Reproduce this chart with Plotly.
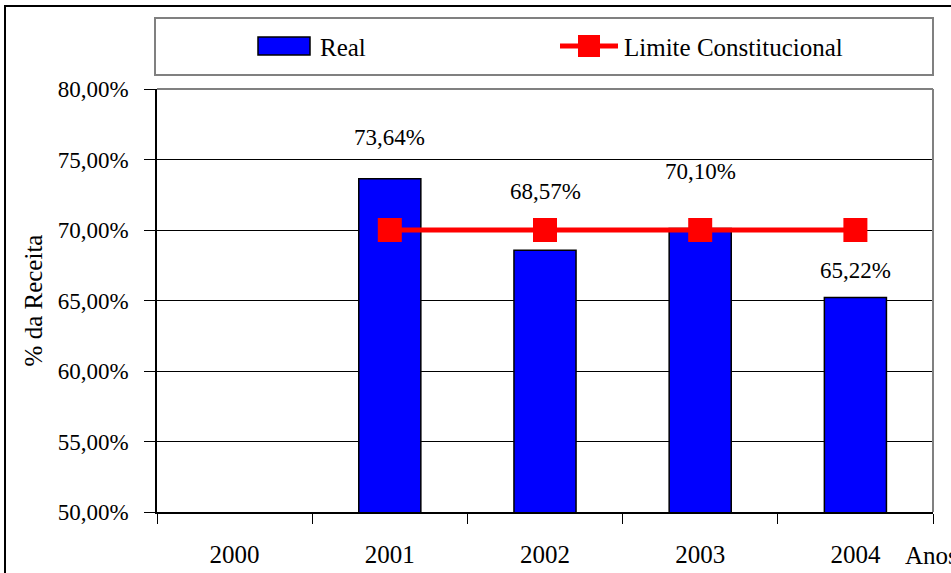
import plotly.graph_objects as go

# --- data -------------------------------------------------------------
anos = ["2000", "2001", "2002", "2003", "2004"]
real = [None, 0.7364, 0.6857, 0.7010, 0.6522]
limite = [None, 0.70, 0.70, 0.70, 0.70]
y_ticks = [0.50, 0.55, 0.60, 0.65, 0.70, 0.75, 0.80]

nome_real = "Real"
nome_limite = "Limite Constitucional"

# --- layout constants (pixels) ----------------------------------------
W, H = 951, 573
L, R, T, B = 157, 18, 89, 61
PW, PH = W - L - R, H - T - B
FONT = "Liberation Serif, Times New Roman, serif"

def px(x):
    return (x - L) / PW

def py(y):
    return (H - B - y) / PH

def pct(v):
    return f"{v * 100:.2f}%".replace(".", ",")

fig = go.Figure()

fig.add_trace(go.Bar(
    x=anos, y=real, name=nome_real, width=0.4,
    marker=dict(color="#0000FF", line=dict(color="black", width=1.5)),
    showlegend=False,
))
fig.add_trace(go.Scatter(
    x=anos, y=limite, name=nome_limite, mode="lines+markers",
    line=dict(color="#FF0000", width=5),
    marker=dict(symbol="square", size=24, color="#FF0000"),
    showlegend=False,
))

# value labels above bars (vertical offsets in pixels)
label_shift = [0, 41, 59, 57, 27]
for i, (v, s) in enumerate(zip(real, label_shift)):
    if v is None:
        continue
    fig.add_annotation(x=i, y=v, xref="x", yref="y", text=pct(v),
                       showarrow=False, yshift=s, yanchor="middle",
                       font=dict(family=FONT, size=23, color="black"))

# axis name to the right of the category labels
fig.add_annotation(xref="paper", yref="paper", x=px(903), y=py(555),
                   text="Anos", showarrow=False, xanchor="left",
                   yanchor="middle",
                   font=dict(family=FONT, size=25, color="black"))

shapes = [
    # outer chart frame
    dict(type="rect", xref="paper", yref="paper",
         x0=px(5), y0=py(620), x1=px(1000), y1=py(6),
         line=dict(color="black", width=2), layer="below"),
    # plot area frame (top / right)
    dict(type="line", xref="paper", yref="paper", x0=0, x1=1, y0=1, y1=1,
         line=dict(color="#808080", width=2)),
    dict(type="line", xref="paper", yref="paper", x0=1, x1=1, y0=0, y1=1,
         line=dict(color="#808080", width=2)),
    # legend box
    dict(type="rect", xref="paper", yref="paper",
         x0=px(155), y0=py(75), x1=px(933), y1=py(18),
         line=dict(color="#808080", width=2), fillcolor="white"),
    # legend swatch: bars
    dict(type="rect", xref="paper", yref="paper",
         x0=px(258), y0=py(55), x1=px(310), y1=py(37),
         line=dict(color="black", width=1.5), fillcolor="#0000FF"),
    # legend swatch: line + marker
    dict(type="line", xref="paper", yref="paper",
         x0=px(560), x1=px(618), y0=py(46), y1=py(46),
         line=dict(color="#FF0000", width=5)),
    dict(type="rect", xref="paper", yref="paper",
         x0=px(578), y0=py(57), x1=px(600), y1=py(35),
         line=dict(width=0), fillcolor="#FF0000"),
]

fig.add_annotation(xref="paper", yref="paper", x=px(318), y=py(47),
                   text=nome_real, showarrow=False, xanchor="left",
                   yanchor="middle",
                   font=dict(family=FONT, size=25, color="black"))
fig.add_annotation(xref="paper", yref="paper", x=px(622), y=py(47),
                   text=nome_limite, showarrow=False, xanchor="left",
                   yanchor="middle",
                   font=dict(family=FONT, size=25, color="black"))

fig.update_layout(
    width=W, height=H,
    margin=dict(l=L, r=R, t=T, b=B, pad=0, autoexpand=False),
    paper_bgcolor="white", plot_bgcolor="white",
    separators=",.",
    shapes=shapes,
    showlegend=False,
    font=dict(family=FONT, color="black"),
)

fig.update_xaxes(
    type="category", categoryorder="array", categoryarray=anos,
    range=[-0.5, len(anos) - 0.5], automargin=False,
    showline=True, linecolor="black", linewidth=1.5,
    ticks="outside", tickson="boundaries", ticklen=10, tickcolor="black",
    tickfont=dict(family=FONT, size=25, color="black"),
    ticklabelstandoff=19,
    showgrid=False, zeroline=False,
)
fig.update_yaxes(
    range=[0.50, 0.80], tickvals=y_ticks, tickformat=".2%",
    automargin=False,
    showline=True, linecolor="black", linewidth=1.5,
    ticks="outside", ticklen=11, tickcolor="black",
    tickfont=dict(family=FONT, size=23, color="black"),
    ticklabelstandoff=11,
    showgrid=True, gridcolor="black", gridwidth=1, zeroline=False,
    title=dict(text="% da Receita", standoff=8,
               font=dict(family=FONT, size=25, color="black")),
)

fig.write_html("out.html")
